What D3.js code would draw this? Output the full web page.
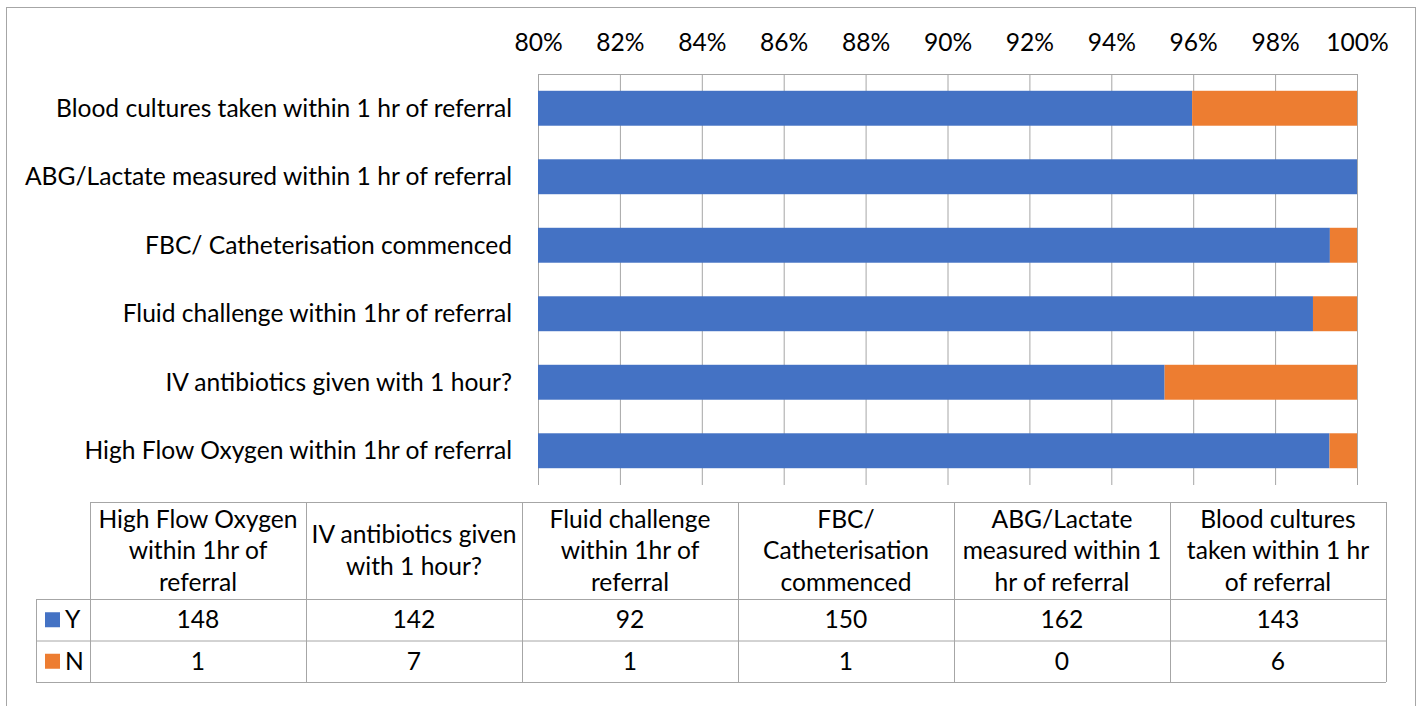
<!DOCTYPE html>
<html>
<head>
<meta charset="utf-8">
<script src="https://cdn.jsdelivr.net/npm/d3@7"></script>
<style>
  html, body { margin: 0; padding: 0; background: #fff; }
  svg { display: block; font-family: Lato, "Open Sans", sans-serif; }
</style>
</head>
<body>
<svg id="chart" width="1418" height="706"></svg>
<script>
// Sepsis bundle audit: Y / N counts per bundle element
const categories = [
  "High Flow Oxygen within 1hr of referral",
  "IV antibiotics given with 1 hour?",
  "Fluid challenge within 1hr of referral",
  "FBC/ Catheterisation commenced",
  "ABG/Lactate measured within 1 hr of referral",
  "Blood cultures taken within 1 hr of referral"
];
const yesCounts = [148, 142, 92, 150, 162, 143];
const noCounts  = [1, 7, 1, 1, 0, 6];
const seriesNames = ["Y", "N"];
const seriesColors = ["#4472C4", "#ED7D31"];
const tickValues = [0.80, 0.82, 0.84, 0.86, 0.88, 0.90, 0.92, 0.94, 0.96, 0.98, 1.00];

// Header text for the data table, broken into lines as shown in each cell
const tableHeaderLines = [
  ["High Flow Oxygen", "within 1hr of", "referral"],
  ["IV antibiotics given", "with 1 hour?"],
  ["Fluid challenge", "within 1hr of", "referral"],
  ["FBC/", "Catheterisation", "commenced"],
  ["ABG/Lactate", "measured within 1", "hr of referral"],
  ["Blood cultures", "taken within 1 hr", "of referral"]
];

const svg = d3.select("#chart");
const textColor = "#000";
const gridColor = "#a6a6a6";
const fontSize = 24.6;

// Outer chart frame
svg.append("rect")
  .attr("x", 6.5).attr("y", 7.5)
  .attr("width", 1409).attr("height", 720)
  .attr("fill", "none").attr("stroke", "#a6a6a6").attr("stroke-width", 1);

// Plot area
const plot = { left: 538, right: 1357, top: 74, bottom: 485 };

const rows = categories.map((c, i) => ({ category: c, Y: yesCounts[i], N: noCounts[i] }));
const stacked = d3.stack().keys(seriesNames).offset(d3.stackOffsetExpand)(rows);

const x = d3.scaleLinear().domain([0.8, 1.0]).range([plot.left, plot.right]);
// First category sits at the bottom, so reverse the band order top-to-bottom
const y = d3.scaleBand()
  .domain(categories.slice().reverse())
  .range([plot.top, plot.bottom])
  .paddingInner(0.49).paddingOuter(0.245);

// Gridlines + top axis
const axis = d3.axisTop(x)
  .tickValues(tickValues)
  .tickFormat(d3.format(".0%"))
  .tickSizeInner(-(plot.bottom - plot.top))
  .tickSizeOuter(0)
  .tickPadding(23);

const gAxis = svg.append("g")
  .attr("transform", `translate(0,${plot.top})`)
  .call(axis);
gAxis.select(".domain").attr("stroke", gridColor).attr("stroke-width", 1);
gAxis.selectAll(".tick line").attr("stroke", gridColor).attr("stroke-width", 1);
gAxis.selectAll(".tick text")
  .attr("fill", textColor)
  .style("font-size", fontSize + "px")
  .style("font-family", "Lato, 'Open Sans', sans-serif");

// Bars, clipped to the visible 80%–100% range
svg.append("clipPath").attr("id", "plot-clip")
  .append("rect")
  .attr("x", plot.left).attr("y", plot.top)
  .attr("width", plot.right - plot.left).attr("height", plot.bottom - plot.top);

const gBars = svg.append("g").attr("clip-path", "url(#plot-clip)");
gBars.selectAll("g.series")
  .data(stacked)
  .join("g")
  .attr("class", "series")
  .attr("fill", (d, i) => seriesColors[i])
  .selectAll("rect")
  .data(d => d)
  .join("rect")
  .attr("x", d => x(d[0]))
  .attr("y", d => y(d.data.category))
  .attr("width", d => Math.max(0, x(d[1]) - x(d[0])))
  .attr("height", y.bandwidth());

// Category labels
svg.append("g")
  .selectAll("text")
  .data(categories)
  .join("text")
  .attr("x", plot.left - 26)
  .attr("y", d => y(d) + y.bandwidth() / 2)
  .attr("dy", "0.35em")
  .attr("text-anchor", "end")
  .attr("fill", textColor)
  .style("font-size", fontSize + "px")
  .text(d => d);

// Data table
const table = { left: 90, labelLeft: 36, colWidth: 216, headTop: 502, headBottom: 599, rowH: 41.5 };
const colX = d3.scaleBand().domain(categories).range([table.left, table.left + table.colWidth * categories.length]);
const rowTops = [table.headBottom, table.headBottom + table.rowH];
const tableBottom = table.headBottom + 2 * table.rowH;
const gTable = svg.append("g");
const lineStroke = { stroke: gridColor, width: 1 };

function hline(x1, x2, yy) {
  gTable.append("line").attr("x1", x1).attr("x2", x2).attr("y1", yy).attr("y2", yy)
    .attr("stroke", lineStroke.stroke).attr("stroke-width", lineStroke.width);
}
function vline(xx, y1, y2) {
  gTable.append("line").attr("x1", xx).attr("x2", xx).attr("y1", y1).attr("y2", y2)
    .attr("stroke", lineStroke.stroke).attr("stroke-width", lineStroke.width);
}
const tableRight = colX.range()[1];
hline(table.left, tableRight, table.headTop + 0.5);
hline(table.labelLeft, tableRight, rowTops[0] + 0.5);
hline(table.labelLeft, tableRight, rowTops[1] + 0.5);
hline(table.labelLeft, tableRight, tableBottom + 0.5);
vline(table.labelLeft + 0.5, rowTops[0], tableBottom);
categories.forEach(c => vline(colX(c) + 0.5, table.headTop, tableBottom));
vline(tableRight + 0.5, table.headTop, tableBottom);

// Header cells
const lineH = 31.5;
const headMid = (table.headTop + table.headBottom) / 2;
categories.forEach((c, i) => {
  const lines = tableHeaderLines[i];
  const t = gTable.append("text")
    .attr("text-anchor", "middle")
    .attr("fill", textColor)
    .style("font-size", fontSize + "px");
  lines.forEach((ln, k) => {
    t.append("tspan")
      .attr("x", colX(c) + colX.bandwidth() / 2)
      .attr("y", headMid + (k - (lines.length - 1) / 2) * lineH)
      .attr("dy", "0.35em")
      .text(ln);
  });
});

// Value rows with legend keys
const seriesValues = [yesCounts, noCounts];
seriesNames.forEach((name, r) => {
  const mid = rowTops[r] + table.rowH / 2;
  gTable.append("rect")
    .attr("x", 45).attr("y", mid - 7.5)
    .attr("width", 15).attr("height", 15)
    .attr("fill", seriesColors[r]);
  gTable.append("text")
    .attr("x", 65).attr("y", mid).attr("dy", "0.35em")
    .attr("fill", textColor)
    .style("font-size", fontSize + "px")
    .text(name);
  categories.forEach((c, i) => {
    gTable.append("text")
      .attr("x", colX(c) + colX.bandwidth() / 2)
      .attr("y", mid).attr("dy", "0.35em")
      .attr("text-anchor", "middle")
      .attr("fill", textColor)
      .style("font-size", fontSize + "px")
      .text(seriesValues[r][i]);
  });
});
</script>
</body>
</html>
